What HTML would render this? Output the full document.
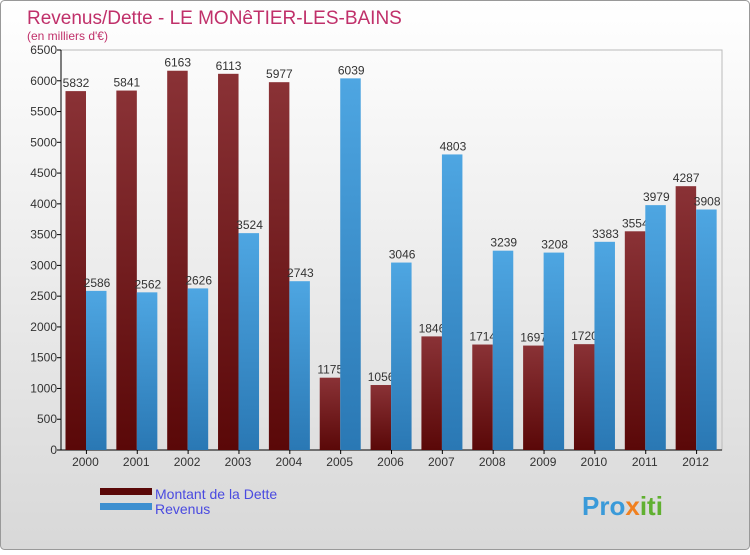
<!DOCTYPE html>
<html><head><meta charset="utf-8"><style>
body{margin:0;background:#fff}
svg text{font-family:"Liberation Sans",sans-serif}
</style></head><body>
<svg id="chart" width="750" height="550" xmlns="http://www.w3.org/2000/svg">
<defs>
<linearGradient id="bg" x1="0" y1="0" x2="0" y2="1"><stop offset="0" stop-color="#ffffff"/><stop offset="1" stop-color="#d8d8d8"/></linearGradient>
<linearGradient id="gd" x1="0" y1="0" x2="0" y2="1"><stop offset="0" stop-color="#8a3236"/><stop offset="1" stop-color="#5a0808"/></linearGradient>
<linearGradient id="gr" x1="0" y1="0" x2="0" y2="1"><stop offset="0" stop-color="#4ea6e2"/><stop offset="1" stop-color="#2a78b4"/></linearGradient>
</defs>
<rect x="0.5" y="0.5" width="749" height="549" rx="4" fill="url(#bg)" stroke="#999"/>
<text x="27" y="24" font-size="19" fill="#c0306a">Revenus/Dette - LE MONêTIER-LES-BAINS</text>
<text x="27" y="40" font-size="12" fill="#c0306a">(en milliers d'€)</text>
<g id="axes"></g>
<g id="bars"></g>
<g>
<rect x="100" y="488" width="52" height="7" fill="#5a0808"/>
<text x="155" y="499" font-size="14" fill="#4a4ae0">Montant de la Dette</text>
<rect x="100" y="503" width="52" height="7" fill="#3d8fd0"/>
<text x="155" y="514" font-size="14" fill="#4a4ae0">Revenus</text>
</g>
<text x="582" y="515" font-size="26" font-weight="bold" fill="#3a9ad9">Pro<tspan fill="#f08020">x</tspan><tspan fill="#60b030">iti</tspan></text>
</svg>
<script>
const categories=["2000","2001","2002","2003","2004","2005","2006","2007","2008","2009","2010","2011","2012"];
const dette=[5832,5841,6163,6113,5977,1175,1056,1846,1714,1697,1720,3554,4287];
const revenus=[2586,2562,2626,3524,2743,6039,3046,4803,3239,3208,3383,3979,3908];
const yTicks=[0,500,1000,1500,2000,2500,3000,3500,4000,4500,5000,5500,6000,6500];
const NS="http://www.w3.org/2000/svg";
const x0=61,x1=722,yTop=50,yBot=450,yMax=6500;
const bw=(x1-x0)/categories.length;
function y(v){return yBot-(v/yMax)*(yBot-yTop);}
function xg(i){return x0+i*bw;}
function mk(tag,attrs,parent){const e=document.createElementNS(NS,tag);for(const k in attrs)e.setAttribute(k,attrs[k]);parent.appendChild(e);return e;}
const axes=document.getElementById('axes'),bars=document.getElementById('bars');
const frame=mk('rect',{x:x0,y:yTop,width:x1-x0,height:yBot-yTop,fill:'none',stroke:'#bbb'},axes);


const ax=mk('line',{x1:x0,y1:yTop,x2:x0,y2:yBot,stroke:'#000'},axes);


const bx=mk('line',{x1:x0,y1:yBot,x2:x1,y2:yBot,stroke:'#000'},axes);


yTicks.forEach(t=>{
 const l=mk('line',{x1:x0-4,y1:y(t),x2:x0,y2:y(t),stroke:'#000'},axes);
 
 
 const tx=mk('text',{x:x0-4,y:y(t)+4,'font-size':12,'text-anchor':'end',fill:'#333'},axes);
 tx.textContent=t;
 
 
});
categories.forEach((c,i)=>{
 const g=xg(i);
 const tk=mk('line',{x1:g+bw/2,y1:yBot,x2:g+bw/2,y2:yBot+4,stroke:'#000'},axes);
 
 
 const t=mk('text',{x:g+bw/2-1,y:yBot+16,'font-size':12,'text-anchor':'middle',fill:'#333'},axes);
 t.textContent=c;
 
 
 const d=mk('rect',{x:g+4.5,y:y(dette[i]),width:20.5,height:yBot-y(dette[i]),fill:'url(#gd)'},bars);
 
 
 const dl=mk('text',{x:g+15,y:y(dette[i])-4,'font-size':12,'text-anchor':'middle',fill:'#333'},bars);
 dl.textContent=dette[i];
 
 
});
categories.forEach((c,i)=>{
 const g=xg(i);
 const r=mk('rect',{x:g+25,y:y(revenus[i]),width:20.5,height:yBot-y(revenus[i]),fill:'url(#gr)'},bars);
 
 
 const rl=mk('text',{x:g+36,y:y(revenus[i])-4,'font-size':12,'text-anchor':'middle',fill:'#333'},bars);
 rl.textContent=revenus[i];
 
 
});
</script>
</body></html>
